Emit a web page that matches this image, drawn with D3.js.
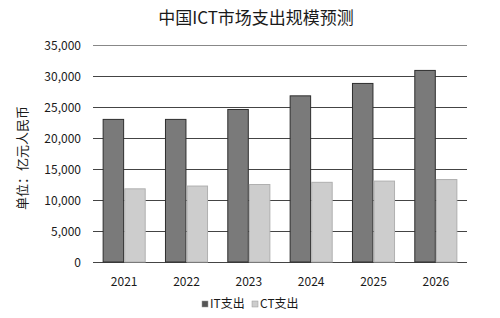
<!DOCTYPE html>
<html>
<head>
<meta charset="utf-8">
<script src="https://cdn.jsdelivr.net/npm/d3@7"></script>
<style>
  body { margin: 0; background: #fff; }
  text { font-family: "Noto Sans CJK SC", "Noto Sans", sans-serif; fill: #1a1a1a; }
</style>
</head>
<body>
<div id="chart"></div>
<script>
// data
var years = ["2021", "2022", "2023", "2024", "2025", "2026"];
var itSpend = [23000, 23000, 24600, 26800, 28800, 30900];
var ctSpend = [11800, 12250, 12500, 12850, 13050, 13300];
var seriesNames = ["IT支出", "CT支出"];
var yTicks = [0, 5000, 10000, 15000, 20000, 25000, 30000, 35000];

var width = 500, height = 318;
var margin = {top: 45, right: 33, bottom: 56, left: 93};

var svg = d3.select("#chart").append("svg")
  .attr("width", width)
  .attr("height", height);

var x = d3.scaleBand()
  .domain(years)
  .range([margin.left, width - margin.right]);

var inner = d3.scaleBand()
  .domain(seriesNames)
  .range([0, x.bandwidth()])
  .paddingInner(0.05)
  .paddingOuter(0.47);

var y = d3.scaleLinear()
  .domain([0, 35000])
  .range([height - margin.bottom, margin.top]);

// title
svg.append("text")
  .attr("x", 256)
  .attr("y", 24)
  .attr("text-anchor", "middle")
  .style("font-size", "17px")
  .text("中国ICT市场支出规模预测");

// gridlines
svg.append("g")
  .selectAll("line")
  .data(yTicks)
  .enter()
  .append("line")
  .attr("x1", margin.left)
  .attr("x2", width - margin.right)
  .attr("y1", function(d) { return y(d) + 0.5; })
  .attr("y2", function(d) { return y(d) + 0.5; })
  .attr("stroke", function(d) { return d === 35000 ? "#888" : "#444"; })
  .attr("stroke-width", 1);

// y axis labels
svg.append("g")
  .selectAll("text")
  .data(yTicks)
  .enter()
  .append("text")
  .attr("x", 81)
  .attr("y", function(d) { return y(d) + 4.5; })
  .attr("text-anchor", "end")
  .style("font-size", "12px")
  .text(function(d) { return d3.format(",")(d); });

// y axis title
svg.append("text")
  .attr("transform", "translate(27," + 158 + ") rotate(-90)")
  .attr("text-anchor", "middle")
  .style("font-size", "13px")
  .text("单位：亿元人民币");

// bars
var groups = svg.append("g")
  .selectAll("g")
  .data(years)
  .enter()
  .append("g")
  .attr("transform", function(d) { return "translate(" + x(d) + ",0)"; });

groups.append("rect")
  .attr("x", inner("IT支出"))
  .attr("y", function(d, i) { return y(itSpend[i]); })
  .attr("width", inner.bandwidth())
  .attr("height", function(d, i) { return y(0) - y(itSpend[i]); })
  .attr("fill", "#7a7a7a")
  .attr("stroke", "#2e2e2e")
  .attr("stroke-width", 1);

groups.append("rect")
  .attr("x", inner("CT支出"))
  .attr("y", function(d, i) { return y(ctSpend[i]); })
  .attr("width", inner.bandwidth())
  .attr("height", function(d, i) { return y(0) - y(ctSpend[i]); })
  .attr("fill", "#cdcdcd")
  .attr("stroke", "#b0b0b0")
  .attr("stroke-width", 1);

// x labels
svg.append("g")
  .selectAll("text")
  .data(years)
  .enter()
  .append("text")
  .attr("x", function(d) { return x(d) + x.bandwidth() / 2; })
  .attr("y", height - margin.bottom + 24)
  .attr("text-anchor", "middle")
  .style("font-size", "12px")
  .text(function(d) { return d; });

// legend
var legendColors = ["#555", "#cdcdcd"];
var legendX = [202, 252];
var legend = svg.append("g")
  .selectAll("g")
  .data(seriesNames)
  .enter()
  .append("g")
  .attr("transform", function(d, i) { return "translate(" + legendX[i] + "," + 305 + ")"; });

legend.append("rect")
  .attr("x", 0)
  .attr("y", -4)
  .attr("width", 6)
  .attr("height", 6)
  .attr("fill", function(d, i) { return legendColors[i]; })
  .attr("stroke", "#999")
  .attr("stroke-width", 0.5);

legend.append("text")
  .attr("x", 8)
  .attr("y", 3)
  .style("font-size", "12px")
  .text(function(d) { return d; });
</script>
</body>
</html>
